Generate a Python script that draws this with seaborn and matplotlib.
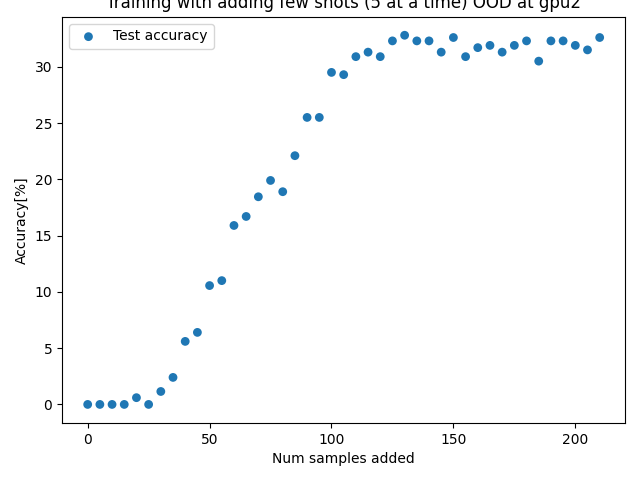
import matplotlib
matplotlib.use("Agg")
import matplotlib.pyplot as plt
import seaborn as sns
import pandas as pd

num_samples = list(range(0, 215, 5))
accuracy = [0, 0, 0, 0, 0.6, 0, 1.15, 2.4, 5.6, 6.4,
            10.56, 11.0, 15.9, 16.7, 18.45, 19.9, 18.9, 22.1, 25.5, 25.5,
            29.5, 29.3, 30.9, 31.3, 30.9, 32.3, 32.8, 32.3, 32.3, 31.3,
            32.6, 30.9, 31.7, 31.9, 31.3, 31.9, 32.3, 30.5, 32.3, 32.3,
            31.9, 31.5, 32.6]

df = pd.DataFrame({"samples": num_samples, "acc": accuracy})

fig, ax = plt.subplots(figsize=(6.4, 4.8), dpi=100)
sns.scatterplot(data=df, x="samples", y="acc", ax=ax, color="#1f77b4",
                s=40, edgecolor="none", label="Test accuracy")
ax.set_xlabel("Num samples added")
ax.set_ylabel("Accuracy[%]")
ax.set_title("Training with adding few shots (5 at a time) OOD at gpu2")
ax.legend(loc="upper left")
fig.subplots_adjust(left=0.097, right=0.977, bottom=0.119, top=0.965)
fig.savefig("out.png", dpi=100)
